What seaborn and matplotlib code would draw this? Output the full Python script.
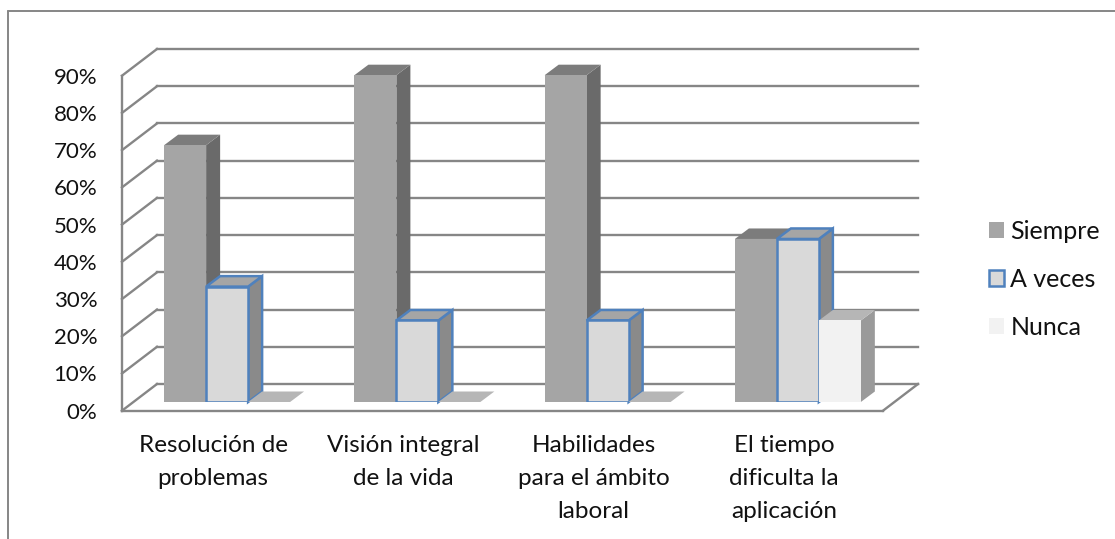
import numpy as np
import pandas as pd
import seaborn as sns
import matplotlib.pyplot as plt
from matplotlib.lines import Line2D
from matplotlib.patches import Polygon
from matplotlib.transforms import Affine2D, IdentityTransform

categorias = ["Resolución de\nproblemas", "Visión integral\nde la vida",
              "Habilidades\npara el ámbito\nlaboral", "El tiempo\ndificulta la\naplicación"]
series = ["Siempre", "A veces", "Nunca"]
siempre = [0.69, 0.878, 0.878, 0.438]
a_veces = [0.31, 0.219, 0.219, 0.438]
nunca = [0.0, 0.0, 0.0, 0.219]
ticks = [0, 0.1, 0.2, 0.3, 0.4, 0.5, 0.6, 0.7, 0.8, 0.9]

frente = {"Siempre": "#a5a5a5", "A veces": "#d9d9d9", "Nunca": "#f2f2f2"}
lado = {"Siempre": "#6a6a6a", "A veces": "#8a8a8a", "Nunca": "#9a9a9a"}
tapa = {"Siempre": "#7c7c7c", "A veces": "#a5a5a5", "Nunca": "#b6b6b6"}
azul = "#4f81bd"
gris = "#868686"

df = pd.DataFrame({
    "cat": categorias * 3,
    "serie": sum([[s] * 4 for s in series], []),
    "val": siempre + a_veces + nunca,
})

sns.set_theme(style="white")
plt.rcParams["font.family"] = ["Lato", "DejaVu Sans"]

W, H = 1115, 539
fig = plt.figure(figsize=(W / 100, H / 100), dpi=100)
# plano de las barras, en pixeles de la imagen
ax = fig.add_axes([132 / W, 1 - 402 / H, 761 / W, 335 / H])
ax.patch.set_alpha(0)

sns.barplot(data=df, x="cat", y="val", hue="serie", hue_order=series, palette=frente,
            width=0.662, gap=0, saturation=1, linewidth=0, ax=ax)
ax.set_xlim(-0.5, 3.5)
ax.set_ylim(0, 0.9)
sns.despine(ax=ax, left=True, bottom=True)
ax.set_xlabel("")
ax.set_ylabel("")
ax.set_yticks(ticks)
ax.set_yticklabels([f"{int(round(t * 100))}%" for t in ticks])
ax.tick_params(axis="y", length=0, pad=25, labelsize=16, labelcolor="#111111")
ax.tick_params(axis="x", length=0, pad=24, labelsize=17.5, labelcolor="#111111")
ax.grid(False)

# etiquetas corridas al plano frontal
for t in ax.get_yticklabels():
    t.set_transform(t.get_transform() + Affine2D().translate(0, -8.7))
for t in ax.get_xticklabels():
    t.set_linespacing(1.7)
    t.set_transform(t.get_transform() + Affine2D().translate(-14, 0))


def punto(x, v, dx=0, dy=0):
    px = ax.transData.transform((x, v))
    return px[0] + dx, px[1] + dy


def linea(a, b, color=gris, lw=1.7, z=1):
    ax.add_line(Line2D([a[0], b[0]], [a[1], b[1]], color=color, lw=lw, zorder=z,
                       transform=IdentityTransform(), clip_on=False, solid_capstyle="projecting"))


# paredes: frente (-10,-8.7), fondo (+25,+18)
for t in ticks:
    linea(punto(-0.5, t, -10, -8.7), punto(-0.5, t, 25, 18))
    linea(punto(-0.5, t, 25, 18), punto(3.5, t, 25, 18))
linea(punto(-0.5, 0, -10, -8.7), punto(-0.5, 0.9, -10, -8.7))
linea(punto(-0.5, 0, -10, -8.7), punto(3.5, 0, -10, -8.7))
linea(punto(3.5, 0, -10, -8.7), punto(3.5, 0, 25, 18))

# caras laterales y tapas de cada barra
prof_x, prof_y = 14, 10.5
n = len(categorias)
barras = ax.patches[:n * len(series)]
for i, p in enumerate(barras):
    s = series[i // n]
    x0, x1 = p.get_x(), p.get_x() + p.get_width()
    h = p.get_height()
    a = punto(x0, h)
    b = punto(x1, h)
    c = punto(x1, 0)
    z = 3 + (i % n) + 0.1 * (i // n)
    p.set_zorder(z)
    borde = azul if s == "A veces" else "none"
    grosor = 1.8 if s == "A veces" else 0
    p.set_edgecolor(borde)
    p.set_linewidth(grosor)
    lat = Polygon([c, b, (b[0] + prof_x, b[1] + prof_y), (c[0] + prof_x, c[1] + prof_y)],
                  facecolor=lado[s], edgecolor=borde, lw=grosor,
                  transform=IdentityTransform(), clip_on=False, zorder=z - 0.01)
    top = Polygon([a, b, (b[0] + prof_x, b[1] + prof_y), (a[0] + prof_x, a[1] + prof_y)],
                  facecolor=tapa[s], edgecolor=borde, lw=grosor,
                  transform=IdentityTransform(), clip_on=False, zorder=z - 0.01)
    if h > 0:
        ax.add_patch(lat)
    ax.add_patch(top)

# leyenda
sns.move_legend(ax, loc="upper left", bbox_to_anchor=(989 / W, 1 - 220 / H),
                bbox_transform=fig.transFigure, frameon=False, title=None, fontsize=18,
                handlelength=0.6, handleheight=0.6, handletextpad=0.26, labelspacing=1.0,
                borderpad=0, borderaxespad=0)
leg = ax.get_legend()
for h, s in zip(leg.get_patches(), series):
    h.set_facecolor(frente[s])
    h.set_edgecolor(azul if s == "A veces" else "none")
    h.set_linewidth(1.8 if s == "A veces" else 0)
for t in leg.get_texts():
    t.set_color("#111111")

# marco del grafico
fig.add_artist(Line2D([8 / W, 8 / W], [0, 1 - 11 / H], color=gris, lw=1.4))
fig.add_artist(Line2D([8 / W, 1], [1 - 11 / H, 1 - 11 / H], color=gris, lw=1.4))

fig.savefig("out.png", dpi=100)
